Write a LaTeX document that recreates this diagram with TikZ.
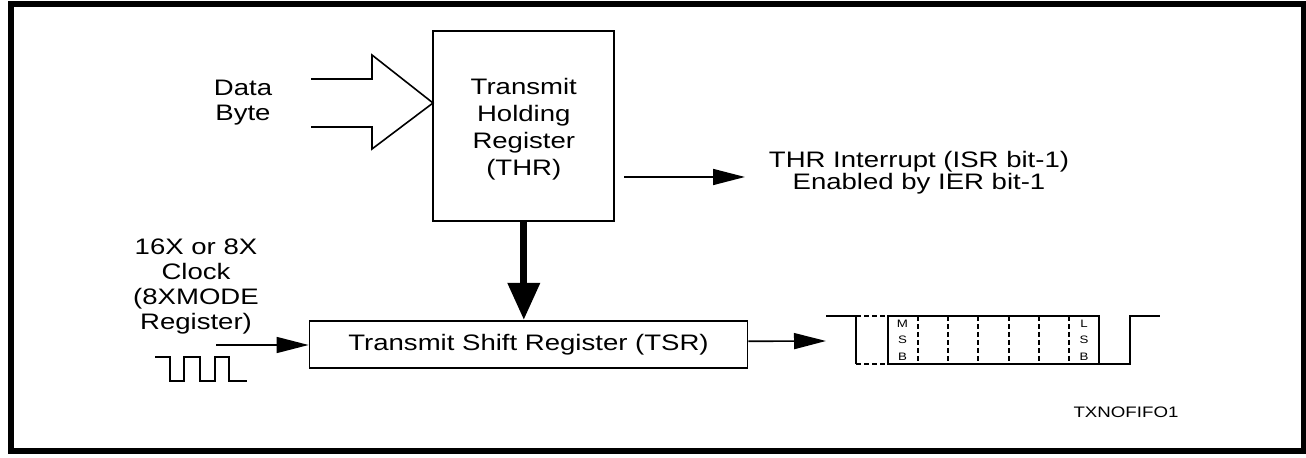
\documentclass[tikz,border=0pt]{standalone}
\usepackage{fontspec}
\setmainfont{Liberation Sans}[FakeStretch=1.23]
\usetikzlibrary{arrows.meta}

\begin{document}
\begin{tikzpicture}[x=0.5pt,y=-0.5pt,
        every node/.style={font=\fontsize{11.2}{12.5}\selectfont,align=center,inner sep=0pt},
        tip/.style={-{Triangle[length=16pt,width=8pt]}},
        wave/.style={line width=1pt}]

    \useasboundingbox (0,0) rectangle (1306,458);
    \draw[line width=3pt] (11,4) rectangle (1303.5,451);

        \begin{scope}[every node/.style={draw,line width=0.9pt,align=center,inner sep=0pt}]
            \node[minimum width=90.5pt,minimum height=95pt,text height=51pt,font=\fontsize{11.2}{13.4}\selectfont] (thr) at (523.8,126.4) {Transmit\\Holding\\Register\\(THR)};
            \node[minimum width=219pt,minimum height=23.5pt,font=\fontsize{11.2}{12.5}\selectfont] (tsr) at (528.5,344.3) {Transmit Shift Register (TSR)};
        \end{scope}

        \node (data) at (243,103) {Data\\Byte};
        \node (clk) at (196,286.5) {16X or 8X\\Clock\\(8XMODE\\Register)};
        \node[font=\fontsize{11.2}{11}\selectfont] (irq) at (919,173) {THR Interrupt (ISR bit-1)\\Enabled by IER bit-1};
        \node[font=\fontsize{7.6}{9}\selectfont] (fig) at (1126,412) {TXNOFIFO1};
        \node[font=\fontsize{5.4}{8.25}\selectfont] (msb) at (902.5,340) {M\\S\\B};
        \node[font=\fontsize{5.4}{8.25}\selectfont] (lsb) at (1084,340) {L\\S\\B};

        \coordinate (clkin) at (216,345);
        \coordinate (irqin) at (624,177);
        \coordinate (irqout) at (745,177);
        \coordinate (txin) at (826,341);

        % data byte block arrow
        \draw[line width=0.8pt] (311,79) -- (372,79) -- (372,55) -- (433,103) -- (372,149) -- (372,127) -- (311,127);

        % clock
        \draw[line width=0.8pt] (155,357) -- (170,357) -- (170,381) -- (184,381) -- (184,357) -- (200,357) -- (200,381) -- (215,381) -- (215,357) -- (229,357) -- (229,381) -- (247,381);

        % serial frame
        \draw[wave] (826,316) -- (856,316) -- (856,364);
        \draw[wave,dash pattern=on 2.5pt off 1.5pt] (856,316) -- (888,316) (856,364) -- (888,364);
        \draw[wave] (888,316) rectangle (1099,364);
        \draw[wave] (1099,364) -- (1130,364) -- (1130,316) -- (1160,316);
        \foreach \x in {1,...,6}
            \draw[wave,dash pattern=on 2.5pt off 1.5pt] (888+\x*30.14,316) -- (888+\x*30.14,364);

        \begin{scope}[every edge/.style={draw,line width=0.8pt}]
            \path [tip] (clkin) edge (clkin -| tsr.west);
            \path [tip] (irqin) edge (irqout);
            \path [tip] ([yshift=1.5pt]tsr.east) edge (txin);
            \path [-{Triangle[length=18.5pt,width=15.5pt]}] (thr.south) edge [line width=3.5pt] (thr.south |- tsr.north);
        \end{scope}

\end{tikzpicture}
\end{document}
